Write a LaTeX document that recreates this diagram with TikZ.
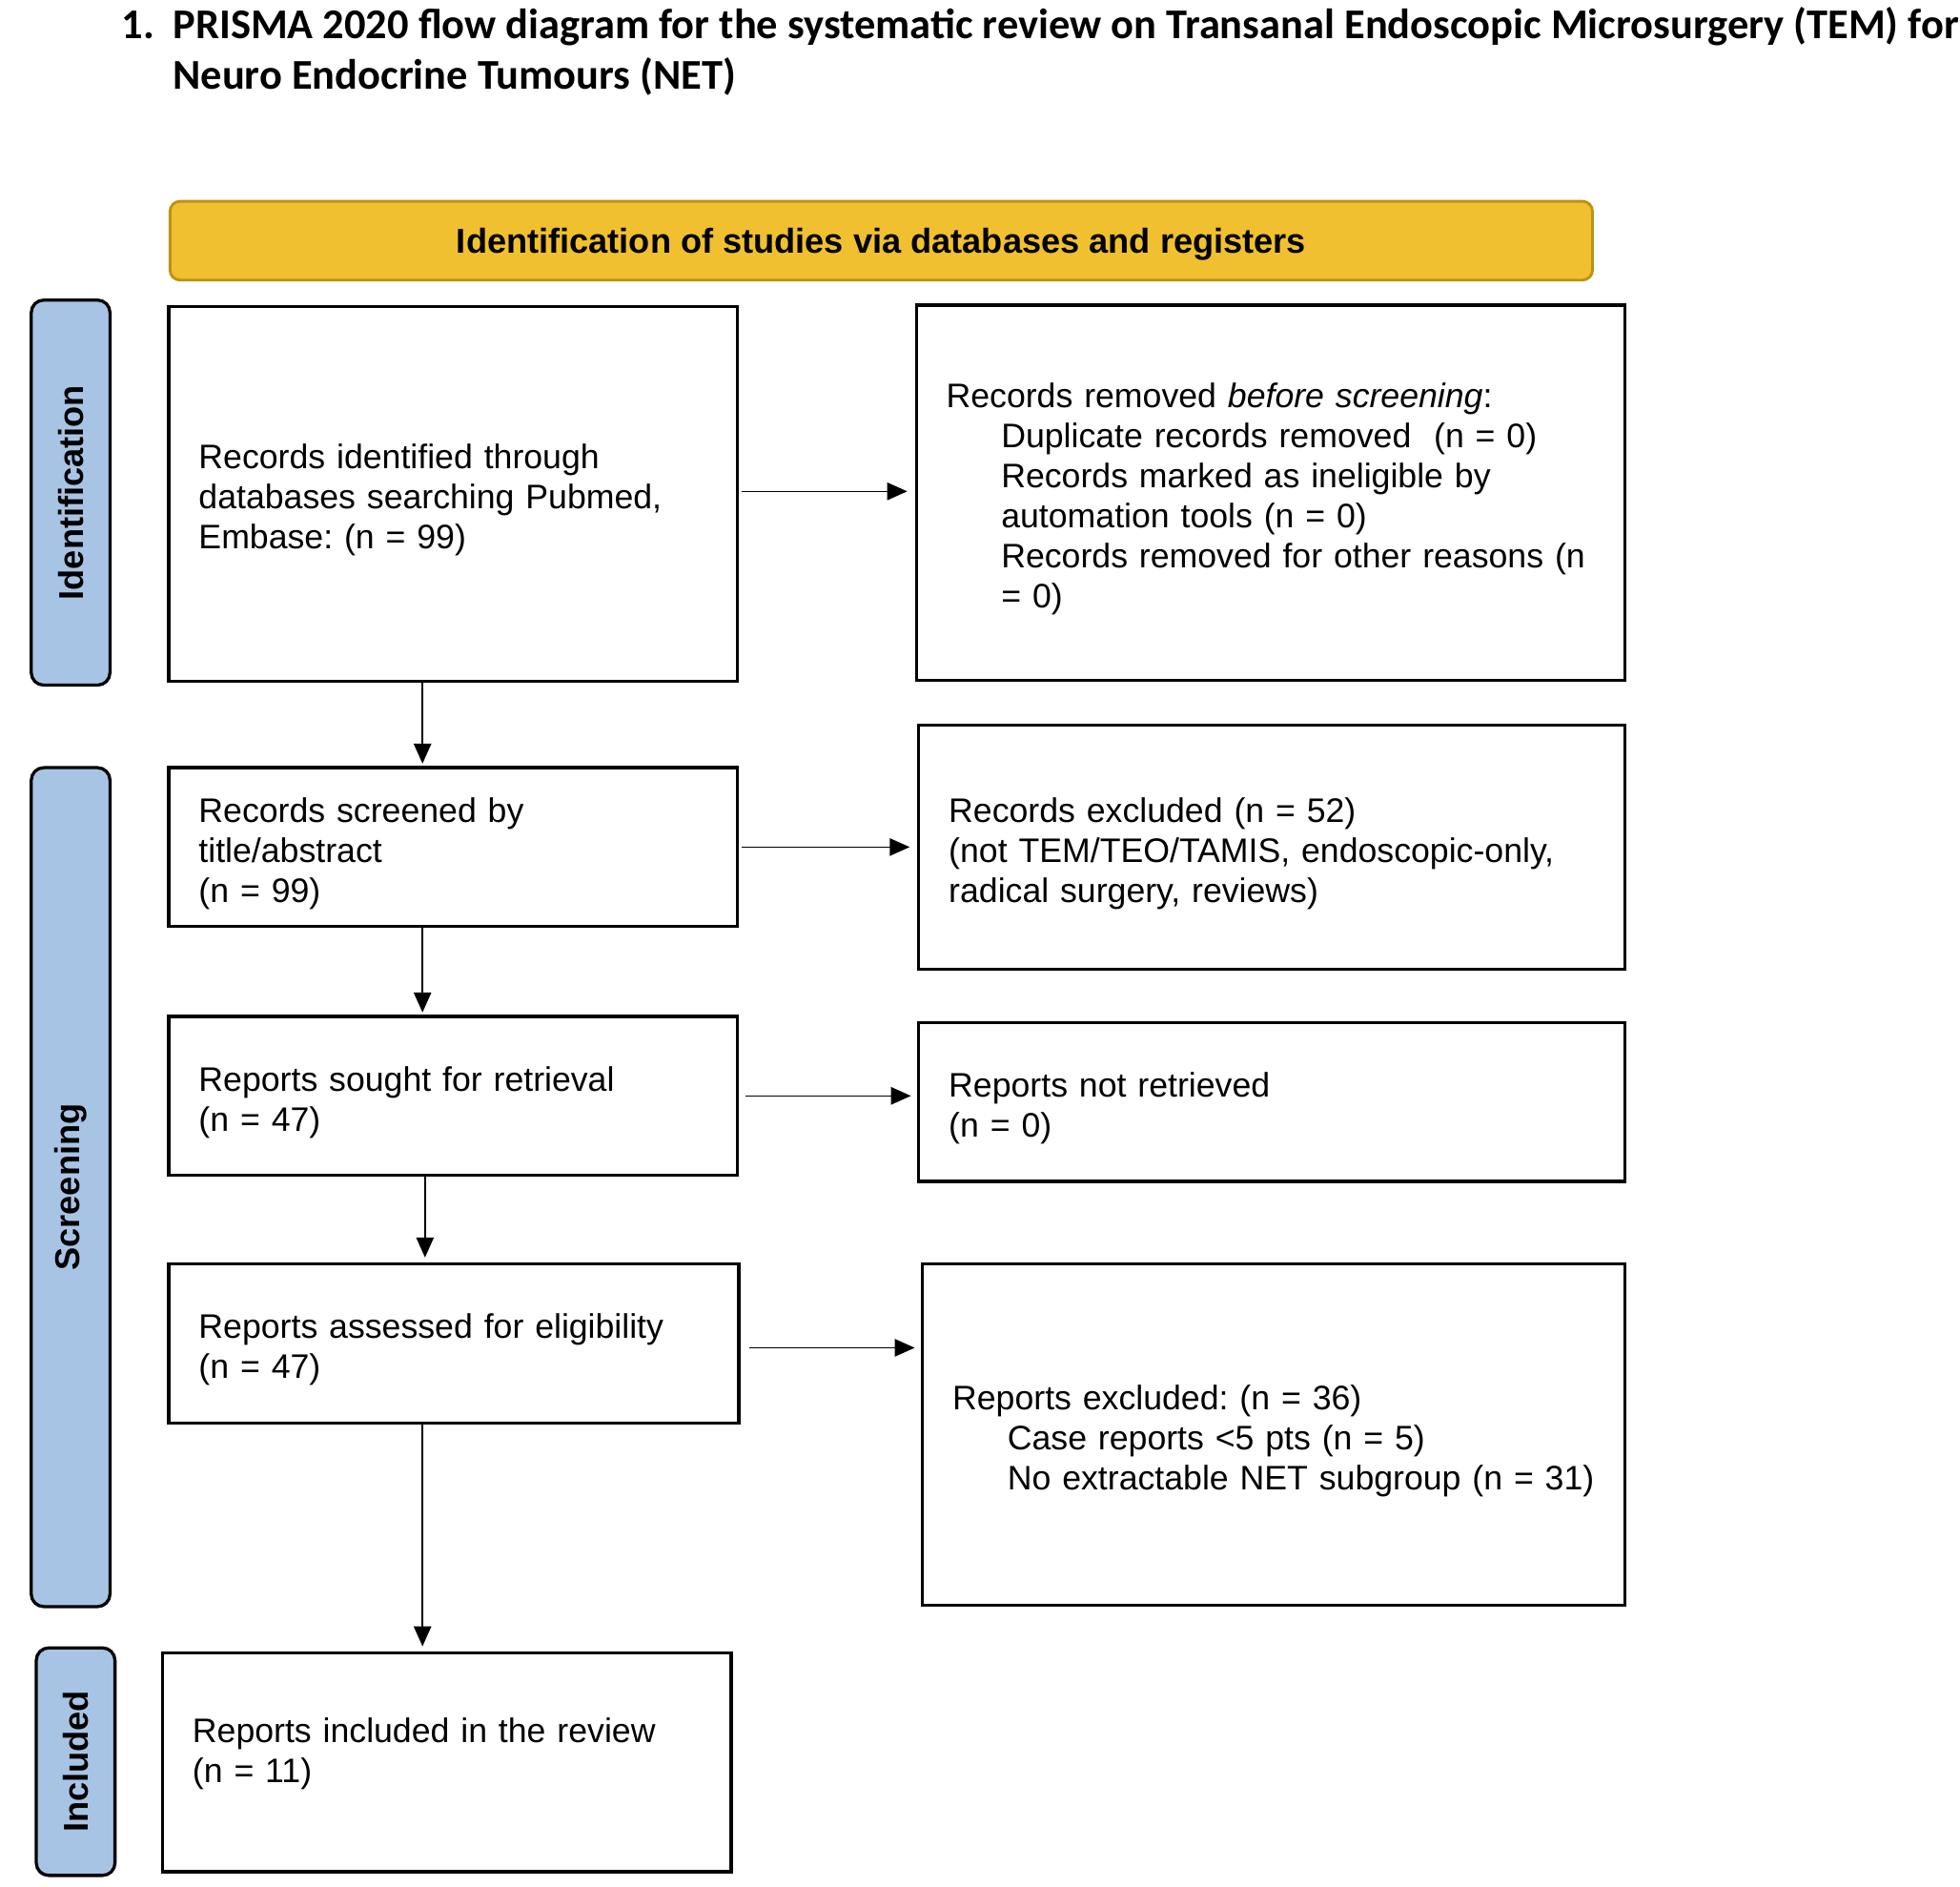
\documentclass[tikz,border=0pt]{standalone}
\usepackage{fontspec}
\setmainfont{Liberation Sans}
\newfontfamily\titlefont{Carlito}
\usetikzlibrary{arrows.meta}
\definecolor{hdrfill}{RGB}{240,192,48}
\definecolor{hdrdraw}{RGB}{190,145,20}
\definecolor{tabfill}{RGB}{168,196,228}
\newcommand{\topgap}{\rule{0pt}{15pt}}
\begin{document}
\frenchspacing
\begin{tikzpicture}[x=0.5pt,y=-0.5pt,
  every node/.style={font=\fontsize{13.6pt}{16pt}\selectfont},
  titletxt/.style={inner sep=0pt, anchor=base west, font=\titlefont\bfseries\fontsize{16.95pt}{20pt}\selectfont},
  box/.style={draw=black, line width=1.25pt, align=left, inner xsep=12pt, inner ysep=0pt, anchor=center},
  hdr/.style={draw=hdrdraw, fill=hdrfill, line width=1.1pt, rounded corners=4pt, minimum width=569pt, minimum height=31.5pt, font=\bfseries\fontsize{13.8pt}{16pt}\selectfont},
  tab/.style={draw=black, fill=tabfill, line width=1.25pt, rounded corners=5pt, rotate=90, minimum height=31.5pt, inner sep=0pt, font=\bfseries\fontsize{13.8pt}{16pt}\selectfont},
  arr/.style={line width=0.6pt, -{Triangle[length=8pt,width=7pt]}}
]
\useasboundingbox (0,0) rectangle (1568,1509);

% title
\node[titletxt] (t1) at (97,31) {1.};
\node[titletxt] (t2) at (138,31) {PRISMA 2020 flow diagram for the systematic review on Transanal Endoscopic Microsurgery (TEM) for};
\node[titletxt] (t3) at (138,71) {Neuro Endocrine Tumours (NET)};

% header
\node[hdr] (hdr) at (705,192.5) {\rule{0pt}{13pt}Identification of studies via databases and registers};

% side tabs
\node[tab, minimum width=154pt] (tid) at (56.5,394) {Identification};
\node[tab, minimum width=335.5pt] (tsc) at (56.5,949.5) {Screening};
\node[tab, minimum width=91pt] (tin) at (60.5,1409) {Included};

% boxes
\node[box, minimum width=227.5pt, minimum height=150pt, text width=203.5pt] (b1) at (362.5,395)
  {\topgap Records identified through\\databases searching Pubmed,\\Embase: (n = 99)};
\node[box, minimum width=283.5pt, minimum height=150pt, text width=259.5pt] (b2) at (1016.5,394)
  {\topgap Records removed \textit{before screening}:\\
   \hspace*{22pt}Duplicate records removed\ \ (n = 0)\\
   \hspace*{22pt}Records marked as ineligible by\\
   \hspace*{22pt}automation tools (n = 0)\\
   \hspace*{22pt}\mbox{Records removed for other reasons (n}\\
   \hspace*{22pt}= 0)};
\node[box, minimum width=227.5pt, minimum height=63.5pt, text width=203.5pt] (b3) at (362.5,677.5)
  {\topgap Records screened by\\title/abstract\\(n = 99)};
\node[box, minimum width=282.5pt, minimum height=97.5pt, text width=258.5pt] (b4) at (1017.5,677.5)
  {\topgap Records excluded (n = 52)\\\mbox{(not TEM/TEO/TAMIS, endoscopic-only,}\\radical surgery, reviews)};
\node[box, minimum width=227.5pt, minimum height=63.5pt, text width=203.5pt] (b5) at (362.5,876.5)
  {\topgap Reports sought for retrieval\\(n = 47)};
\node[box, minimum width=282.5pt, minimum height=63.5pt, text width=258.5pt] (b6) at (1017.5,881.5)
  {\topgap Reports not retrieved\\(n = 0)};
\node[box, minimum width=228pt, minimum height=63.5pt, text width=204pt] (b7) at (363,1074.5)
  {\topgap Reports assessed for eligibility\\(n = 47)};
\node[box, minimum width=281pt, minimum height=136.5pt, text width=257pt] (b8) at (1019,1147.5)
  {\topgap Reports excluded: (n = 36)\\
   \hspace*{22pt}Case reports <5 pts (n = 5)\\
   \hspace*{22pt}\mbox{No extractable NET subgroup (n = 31)}};
\node[box, minimum width=227.5pt, minimum height=87.5pt, text width=203.5pt] (b9) at (357.5,1409.5)
  {\topgap Reports included in the review\\(n = 11)\\[-1.5pt]\rule{0pt}{0pt}};

% connectors
\coordinate (vx) at (338,0);
\coordinate (vx2) at (340,0);
\draw[arr, shorten <=1pt, shorten >=3pt] ([yshift=1pt]b1.east) -- ([yshift=1pt]b1.east -| b2.west);
\draw[arr, shorten <=1pt, shorten >=3pt] (b3.east) -- (b3.east -| b4.west);
\draw[arr, shorten <=2.5pt, shorten >=2.5pt] (b5.east) -- (b5.east -| b6.west);
\draw[arr, shorten <=3.5pt, shorten >=2.5pt] ([yshift=-1.75pt]b7.east) -- ([yshift=-1.75pt]b7.east -| b8.west);
\draw[arr, shorten >=1pt] (b1.south -| vx) -- (b3.north -| vx);
\draw[arr, shorten >=1pt] (b3.south -| vx) -- (b5.north -| vx);
\draw[arr, shorten >=2pt] (b5.south -| vx2) -- (b7.north -| vx2);
\draw[arr, shorten >=2pt] (b7.south -| vx) -- (b9.north -| vx);
\end{tikzpicture}
\end{document}
